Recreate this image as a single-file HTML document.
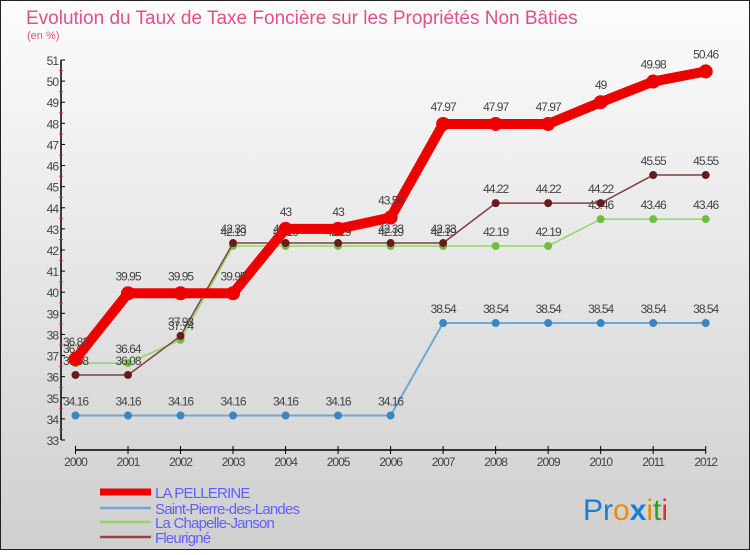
<!DOCTYPE html>
<html><head><meta charset="utf-8">
<style>
body{margin:0;}
#c{width:750px;height:550px;position:relative;font-family:"Liberation Sans",sans-serif;}
svg text{font-family:"Liberation Sans",sans-serif;}
</style></head>
<body>
<div id="c">
<svg id="s" width="750" height="550" xmlns="http://www.w3.org/2000/svg">
<defs>
<linearGradient id="bg" x1="0" y1="0" x2="0" y2="1">
<stop offset="0" stop-color="#fcfcfc"/><stop offset="1" stop-color="#cfcfcf"/>
</linearGradient>
</defs>
<rect x="0.5" y="0.5" width="749" height="549" fill="url(#bg)" stroke="#222"/>
<text x="26" y="24" font-size="19" fill="#e0508a">Evolution du Taux de Taxe Foncière sur les Propriétés Non Bâties</text>
<text x="27" y="39" font-size="11" fill="#e0508a">(en %)</text>
<g id="axes"></g>
<g id="series"></g>
<g id="legend"></g>
<text x="583" y="520" font-size="30" font-family="Liberation Sans"><tspan fill="#1a7fd0">Pr</tspan><tspan fill="#f08a00">o</tspan><tspan fill="#1a7fd0" font-weight="bold">x</tspan><tspan fill="#f08a00">i</tspan><tspan fill="#2aa02a">t</tspan><tspan fill="#e03030">i</tspan></text>
</svg>
</div>
<script>
const years=[2000,2001,2002,2003,2004,2005,2006,2007,2008,2009,2010,2011,2012];
const pellerine=[36.83,39.95,39.95,39.95,43,43,43.54,47.97,47.97,47.97,49,49.98,50.46];
const saintPierre=[34.16,34.16,34.16,34.16,34.16,34.16,34.16,38.54,38.54,38.54,38.54,38.54,38.54];
const chapelle=[36.64,36.64,37.74,42.19,42.19,42.19,42.19,42.19,42.19,42.19,43.46,43.46,43.46];
const fleurigne=[36.08,36.08,37.93,42.33,42.33,42.33,42.33,42.33,44.22,44.22,44.22,45.55,45.55];
const yTicks=[33,34,35,36,37,38,39,40,41,42,43,44,45,46,47,48,49,50,51];
const seriesNames=["LA PELLERINE","Saint-Pierre-des-Landes","La Chapelle-Janson","Fleurigné"];

const NS="http://www.w3.org/2000/svg";
function X(i){return 75.5+i*(705.7-75.5)/(years.length-1);}
function Y(v){return 440-(v-33)*(380/18);}
function mk(tag,attrs,parent){const e=document.createElementNS(NS,tag);for(const k in attrs)e.setAttribute(k,attrs[k]);parent.appendChild(e);return e;}
const axes=document.getElementById('axes'),sg=document.getElementById('series'),lg=document.getElementById('legend');

let yl=mk('line',{x1:61,y1:60,x2:61,y2:440,stroke:'#000','stroke-width':1.5},axes);


yTicks.forEach(t=>{
  const y=Y(t);
  mk('line',{x1:61,y1:y,x2:65,y2:y,stroke:'#000'},axes);
  if(t<51) mk('line',{x1:59,y1:y-10.5,x2:63,y2:y-10.5,stroke:'#e03030'},axes);
  const tx=mk('text',{x:58,y:y+5,'font-size':12,fill:'#444','text-anchor':'end','letter-spacing':'-1'},axes);
  tx.textContent=t;
  
  
});
let xl=mk('line',{x1:75.5,y1:450,x2:705.7,y2:450,stroke:'#000','stroke-width':1.5},axes);


years.forEach((yr,i)=>{
  mk('line',{x1:X(i),y1:446,x2:X(i),y2:454,stroke:'#000'},axes);
  const tx=mk('text',{x:X(i),y:466,'font-size':12,fill:'#444','text-anchor':'middle','letter-spacing':'-1'},axes);
  tx.textContent=yr;
  
  
});

const defs=[
 {d:saintPierre,c:'#6fa8d0',w:2,r:4,m:'#3a86c0',n:'saint-pierre'},
 {d:chapelle,c:'#90d860',w:1.5,r:4,m:'#70c040',n:'la-chapelle'},
 {d:fleurigne,c:'#804040',w:1.5,r:4,m:'#6a1a1a',n:'fleurigne'},
 {d:pellerine,c:'#ee0000',w:10,r:7,m:'#ee0000',n:'la-pellerine'}
];
defs.forEach(s=>{
  const pts=s.d.map((v,i)=>X(i)+','+Y(v)).join(' ');
  const pl=mk('polyline',{points:pts,fill:'none',stroke:s.c,'stroke-width':s.w,'stroke-linejoin':'round'},sg);
  
  
  s.d.forEach((v,i)=>{
    const c=mk('circle',{cx:X(i),cy:Y(v),r:s.r,fill:s.m},sg);
    
    
    const t=mk('text',{x:X(i),y:Y(v)-(s.r+6),'font-size':12,fill:'#444','text-anchor':'middle','letter-spacing':'-1'},sg);
    t.textContent=String(v);
    
    
  });
});

const legCols=['#ee0000','#6fa8d0','#90d860','#904848'],legW=[7,2.5,2.5,2.5],legY=[492,508,522,537];
seriesNames.forEach((n,i)=>{
  const l=mk('line',{x1:100,y1:legY[i],x2:151,y2:legY[i],stroke:legCols[i],'stroke-width':legW[i]},lg);
  
  
  const t=mk('text',{x:155,y:legY[i]+6,'font-size':15,fill:'#6060ff','letter-spacing':'-0.8'},lg);
  t.textContent=n;
  
  
});
</script>
</body></html>
